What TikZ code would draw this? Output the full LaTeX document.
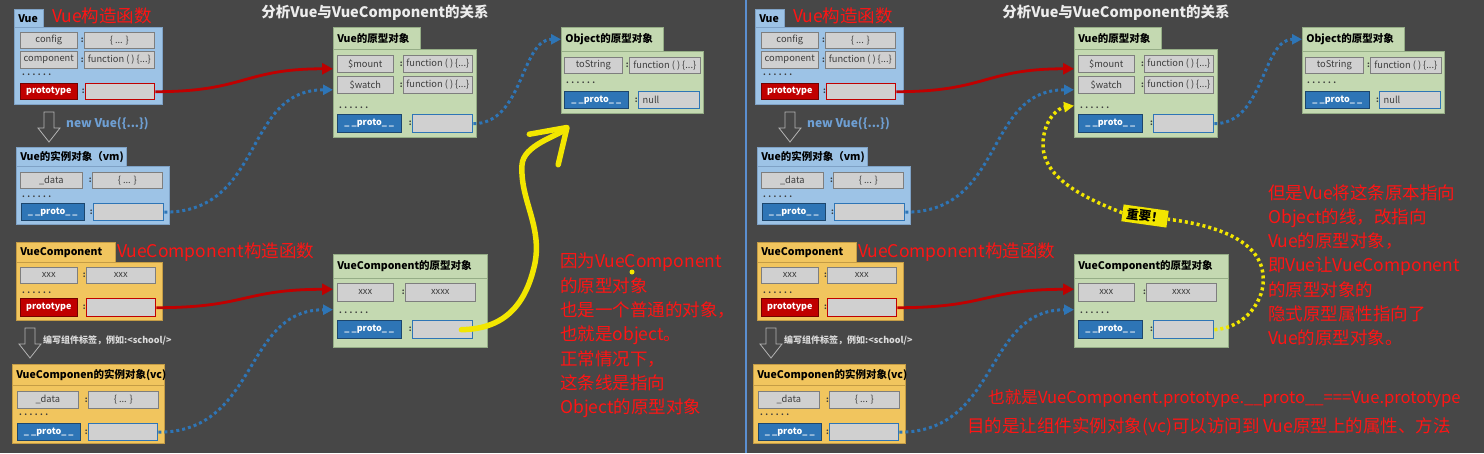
\documentclass[tikz,border=0pt]{standalone}
\usepackage{fontspec}
\setmainfont{Noto Sans CJK SC}
\usetikzlibrary{arrows.meta,calc}

\definecolor{bg}{HTML}{474747}
\definecolor{vblue}{HTML}{9DC3E6}
\definecolor{vblueline}{HTML}{7FA2C6}
\definecolor{vyellow}{HTML}{F1C55E}
\definecolor{vyellowline}{HTML}{C49C45}
\definecolor{vgreen}{HTML}{C4D9B1}
\definecolor{vgreenline}{HTML}{95AD86}
\definecolor{fieldgray}{HTML}{D0D0D0}
\definecolor{fieldline}{HTML}{7E7E7E}
\definecolor{fieldtext}{HTML}{3C3C3C}
\definecolor{protored}{HTML}{C00000}
\definecolor{protoblue}{HTML}{2E75B6}
\definecolor{marker}{HTML}{F2E600}
\definecolor{notered}{HTML}{FF1414}
\definecolor{newblue}{HTML}{6E9FD3}
\definecolor{hintgray}{HTML}{DADADA}
\definecolor{headgray}{HTML}{ECECEC}
\definecolor{arrowgray}{HTML}{B4B4B4}
\definecolor{divider}{HTML}{5B8FD0}

\begin{document}
\begin{tikzpicture}[x=1pt,y=-1pt,
    card/.style={draw, anchor=north west, inner sep=0pt, line width=0.6pt},
    tab/.style={card, inner xsep=4pt, align=left, text=black, font=\bfseries\fontsize{10.5}{12}\selectfont},
    field/.style={card, draw=fieldline, fill=fieldgray, text=fieldtext, font=\fontsize{9.3}{10}\selectfont},
    val/.style={label distance=2.5pt, label={[colon]left:{:}}},
    colon/.style={inner sep=0pt, text=fieldtext, font=\bfseries\fontsize{8}{9}\selectfont},
    redkey/.style={field, fill=protored, draw=protored!60!black, text=white, font=\bfseries\fontsize{9}{10}\selectfont},
    redval/.style={field, val, draw=protored, line width=1.4pt},
    bluekey/.style={field, fill=protoblue, draw=protoblue!60!black, text=white, font=\bfseries\fontsize{9}{10}\selectfont},
    blueval/.style={field, val, draw=protoblue, line width=1.4pt},
    dots/.style={anchor=base west, inner sep=0pt, text=fieldtext, font=\bfseries\fontsize{8}{9}\selectfont},
    heading/.style={inner sep=0pt, text=headgray, font=\bfseries\fontsize{14.5}{16}\selectfont},
    note/.style={anchor=west, inner sep=0pt, align=left, text=notered, font=\fontsize{17.5}{24.3}\selectfont},
    newlabel/.style={anchor=west, inner sep=0pt, text=newblue, font=\bfseries\fontsize{12}{14}\selectfont},
    hint/.style={anchor=west, inner sep=0pt, text=hintgray, font=\bfseries\fontsize{9}{10}\selectfont},
    important/.style={fill=marker, text=black, inner xsep=4pt, inner ysep=2.5pt, font=\bfseries\fontsize{12.5}{14}\selectfont},
    hollow/.pic={\draw[draw=arrowgray, line width=0.8pt] (-5,0) -- (5,0) -- (5,16) -- (11,16) -- (0,30) -- (-11,16) -- (-5,16) -- cycle;},
    protolink/.style={draw=protored, line width=2.8pt, -{Triangle[length=11pt,width=11pt]}},
    protodots/.style={draw=protoblue, line width=3pt, dash pattern=on 3pt off 3pt, -{Triangle[length=10pt,width=10pt]}},
    marker arrow/.style={draw=marker, line width=5.5pt, line cap=round, -{Straight Barb[length=32pt,width=42pt,round]}},
    marker dots/.style={draw=marker, line width=3.5pt, dash pattern=on 3pt off 3pt}
]
\fill[bg] (0,0) rectangle (1484,453);
\useasboundingbox (0,0) rectangle (1484,453);
\draw[divider, line width=1.2pt] (746,0) -- (746,453);

\foreach \p/\ox in {a/0,b/741}{
\begin{scope}[xshift=\ox pt]
\node[heading] (\p-title) at (375,13) {分析Vue与VueComponent的关系};

% Vue constructor
\node[tab, fill=vblue, draw=vblueline, text width=21pt, minimum height=18pt] (\p-vue) at (14,9) {Vue};
\node[card, fill=vblue, draw=vblueline, minimum width=148pt, minimum height=77pt] (\p-vue-body) at (14,27) {};
\node[field, minimum width=57pt, minimum height=16pt] (\p-config) at (20,32) {config};
\node[field, val, minimum width=70pt, minimum height=16pt] (\p-config-val) at (84,32) {\{ ... \}};
\node[field, minimum width=57pt, minimum height=17pt] (\p-comp) at (20,51) {component};
\node[field, val, minimum width=70pt, minimum height=17pt] (\p-comp-val) at (84,51) {function ( ) \{...\}};
\node[dots] (\p-vue-dots) at (22,75) {. . . . . .};
\node[redkey, minimum width=57pt, minimum height=16pt] (\p-proto) at (20,83) {prototype};
\node[redval, minimum width=69pt, minimum height=16pt] (\p-proto-val) at (85,83) {};
\node[note] (\p-vue-note) at (52,16) {Vue构造函数};

\pic (\p-new) at (49,112) {hollow};
\node[newlabel] (\p-new-label) at (66,124) {new Vue(\{...\})};

% Vue instance
\node[tab, fill=vblue, draw=vblueline, text width=102pt, minimum height=19pt] (\p-vm) at (16,147) {Vue的实例对象（vm)};
\node[card, fill=vblue, draw=vblueline, minimum width=153pt, minimum height=58pt] (\p-vm-body) at (16,166) {};
\node[field, minimum width=62pt, minimum height=16pt] (\p-vm-data) at (20,172) {\_data};
\node[field, val, minimum width=70pt, minimum height=16pt] (\p-vm-data-val) at (92,172) {\{ ... \}};
\node[dots] (\p-vm-dots) at (22,197) {. . . . . .};
\node[bluekey, minimum width=63pt, minimum height=17pt] (\p-vm-pkey) at (21,203) {\_ \_proto\_ \_};
\node[blueval, minimum width=70pt, minimum height=17pt] (\p-vm-pval) at (93,203) {};

% VueComponent constructor
\node[tab, fill=vyellow, draw=vyellowline, text width=91pt, minimum height=20pt] (\p-vc) at (16,242) {VueComponent};
\node[card, fill=vyellow, draw=vyellowline, minimum width=146pt, minimum height=58pt] (\p-vc-body) at (16,262) {};
\node[field, minimum width=57pt, minimum height=16pt] (\p-vc-xxx) at (20,267) {xxx};
\node[field, val, minimum width=69pt, minimum height=16pt] (\p-vc-xxx-val) at (86,267) {xxx};
\node[dots] (\p-vc-dots) at (22,293) {. . . . . .};
\node[redkey, minimum width=57pt, minimum height=18pt] (\p-vc-proto) at (20,298) {prototype};
\node[redval, minimum width=69pt, minimum height=18pt] (\p-vc-proto-val) at (86,298) {};
\node[note] (\p-vc-note) at (117,252) {VueComponent构造函数};

\pic (\p-write) at (30,328) {hollow};
\node[hint] (\p-write-label) at (43,340) {编写组件标签，例如:<school/>};

% VueComponent instance
\node[tab, fill=vyellow, draw=vyellowline, text width=144pt, minimum height=21pt] (\p-vcinst) at (12,364) {VueComponen的实例对象(vc)};
\node[card, fill=vyellow, draw=vyellowline, minimum width=152pt, minimum height=58pt] (\p-vcinst-body) at (12,385) {};
\node[field, minimum width=61pt, minimum height=17pt] (\p-vcinst-data) at (17,391) {\_data};
\node[field, val, minimum width=70pt, minimum height=17pt] (\p-vcinst-data-val) at (88,391) {\{ ... \}};
\node[dots] (\p-vcinst-dots) at (19,415) {. . . . . .};
\node[bluekey, minimum width=63pt, minimum height=17pt] (\p-vcinst-pkey) at (17,423) {\_ \_proto\_ \_};
\node[blueval, minimum width=69pt, minimum height=17pt] (\p-vcinst-pval) at (88,423) {};

% Vue prototype
\node[tab, fill=vgreen, draw=vgreenline, text width=79pt, minimum height=22pt] (\p-vpo) at (333,27) {Vue的原型对象};
\node[card, fill=vgreen, draw=vgreenline, minimum width=143pt, minimum height=88pt] (\p-vpo-body) at (333,49) {};
\node[field, minimum width=56pt, minimum height=17pt] (\p-mount) at (337,55) {\$mount};
\node[field, val, minimum width=69pt, minimum height=17pt] (\p-mount-val) at (403,55) {function ( ) \{...\}};
\node[field, minimum width=56pt, minimum height=17pt] (\p-watch) at (337,76) {\$watch};
\node[field, val, minimum width=69pt, minimum height=17pt] (\p-watch-val) at (403,76) {function ( ) \{...\}};
\node[dots] (\p-vpo-dots) at (339,108) {. . . . . .};
\node[bluekey, minimum width=64pt, minimum height=18pt] (\p-vpo-pkey) at (337,114) {\_ \_proto\_ \_};
\node[blueval, minimum width=60pt, minimum height=18pt] (\p-vpo-pval) at (412,114) {};

% Object prototype
\node[tab, fill=vgreen, draw=vgreenline, text width=94pt, minimum height=24pt] (\p-obj) at (561,27) {Object的原型对象};
\node[card, fill=vgreen, draw=vgreenline, minimum width=142pt, minimum height=62pt] (\p-obj-body) at (561,51) {};
\node[field, minimum width=58pt, minimum height=16pt] (\p-tostr) at (564,57) {toString};
\node[field, val, minimum width=71pt, minimum height=16pt] (\p-tostr-val) at (629,57) {function ( ) \{...\}};
\node[dots] (\p-obj-dots) at (566,83) {. . . . . .};
\node[bluekey, minimum width=64pt, minimum height=17pt] (\p-obj-pkey) at (564,91) {\_ \_proto\_ \_};
\node[blueval, text width=53pt, align=left, inner xsep=4pt, minimum height=17pt] (\p-obj-pval) at (638,91) {null};

% VueComponent prototype
\node[tab, fill=vgreen, draw=vgreenline, text width=146pt, minimum height=24pt] (\p-vcp) at (333,254) {VueComponent的原型对象};
\node[card, fill=vgreen, draw=vgreenline, minimum width=154pt, minimum height=69pt] (\p-vcp-body) at (333,278) {};
\node[field, minimum width=56pt, minimum height=18pt] (\p-vcp-xxx) at (337,283) {xxx};
\node[field, val, minimum width=70pt, minimum height=18pt] (\p-vcp-xxx-val) at (405,283) {xxxx};
\node[dots] (\p-vcp-dots) at (339,313) {. . . . . .};
\node[bluekey, minimum width=64pt, minimum height=18pt] (\p-vcp-pkey) at (337,320) {\_ \_proto\_ \_};
\node[blueval, minimum width=60pt, minimum height=18pt] (\p-vcp-pval) at (412,320) {};

% prototype and __proto__ links
\draw[protolink] (\p-proto-val.east) .. controls +(90,0) and +(-90,0) .. ($(\p-vpo-body.west |- \p-mount)+(0,5)$);
\draw[protolink] (\p-vc-proto-val.east) .. controls +(90,0) and +(-90,0) .. ($(\p-vcp-body.west |- \p-vcp-xxx)+(0,-3)$);
\draw[protodots] (\p-vm-pval.east) .. controls +(100,0) and +(-90,0) .. ($(\p-vpo-body.west |- \p-watch)+(0,5)$);
\draw[protodots] (\p-vpo-pval.east) .. controls +(50,0) and +(-40,0) .. (\p-obj.west);
\draw[protodots] (\p-vcinst-pval.east) .. controls +(100,0) and +(-90,0) .. ($(\p-vcp-body.west |- \p-vcp-dots)+(0,-2.5)$);
\end{scope}
}

% left: the normal case
\node[note, anchor=north west] (a-why) at (560,253) {因为VueComponent\\的原型对象\\也是一个普通的对象，\\也就是object。\\正常情况下，\\这条线是指向\\Object的原型对象};
\node[circle, fill=marker, inner sep=0pt, minimum size=5pt] (a-pointer) at (632,272) {};
\draw[marker arrow] ([xshift=-12pt]a-vcp-pval.east) .. controls (500,329) and (525,310) .. (535,263) .. controls (542,225) and (520,200) .. (522,165) .. controls (523,145) and (558,136) .. ($(a-obj-body.south west)+(8,12)$);

% right: what Vue does
\node[note, anchor=north west] (b-but) at (1268,184) {但是Vue将这条原本指向\\Object的线，改指向\\Vue的原型对象，\\即Vue让VueComponent\\的原型对象的\\隐式原型属性指向了\\Vue的原型对象。};
\node[note, font=\fontsize{16.6}{20}\selectfont] (b-so) at (988,398) {也就是VueComponent.prototype.\_\_proto\_\_===Vue.prototype};
\node[note] (b-goal) at (967,427) {目的是让组件实例对象(vc)可以访问到 Vue原型上的属性、方法};
\node[important, rotate=-8] (b-imp) at (1145,216) {重要！};
\draw[marker dots] (b-vcp-pval.east) .. controls (1245,328) and (1266,300) .. (1263,275) .. controls (1260,240) and (1215,225) .. (b-imp.east);
\draw[marker dots, -{Triangle[length=10pt,width=10pt]}] (b-imp.west) .. controls (1090,200) and (1043,180) .. (1043,145) .. controls (1043,120) and (1058,108) .. ($(b-vpo-body.west |- b-vpo-dots)+(0,-1.5)$);

\end{tikzpicture}
\end{document}
